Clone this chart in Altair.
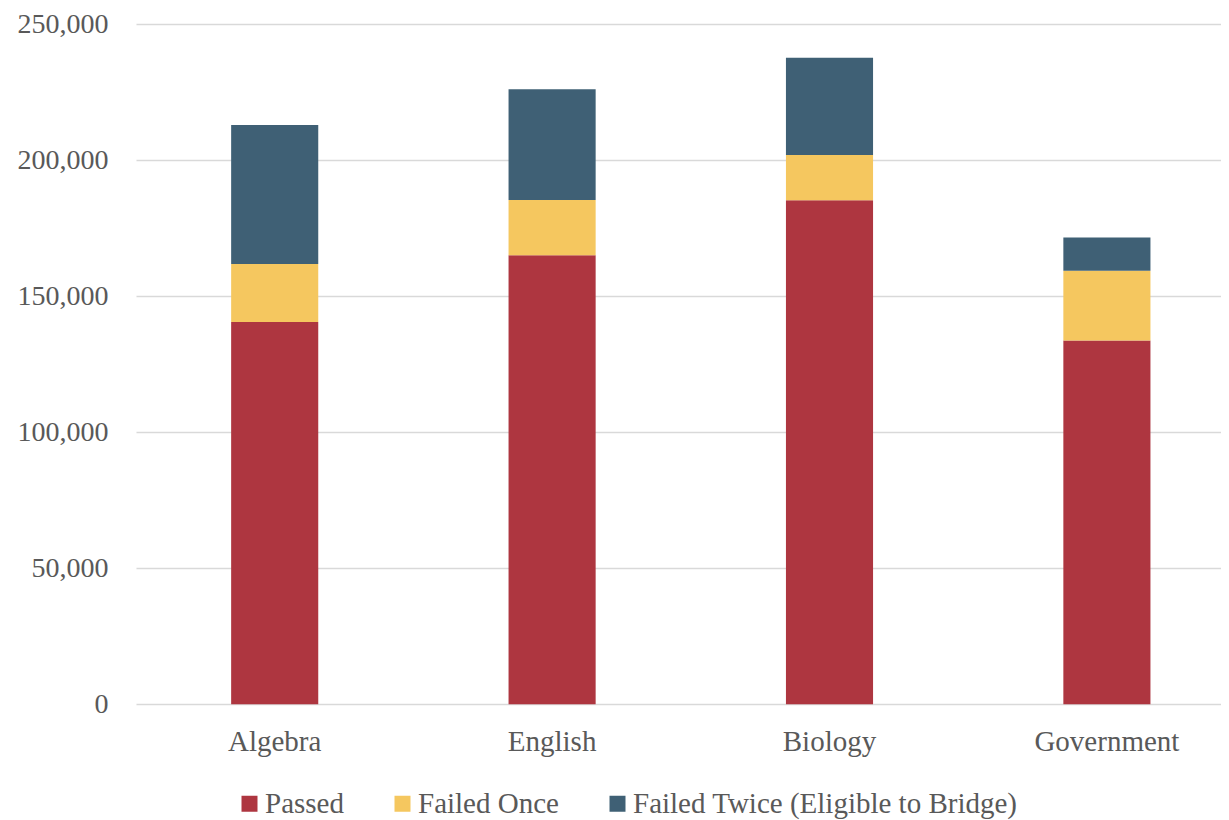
import altair as alt
import pandas as pd

subjects = ["Algebra", "English", "Biology", "Government"]
series = ["Passed", "Failed Once", "Failed Twice (Eligible to Bridge)"]
passed = [140500, 165000, 185200, 133700]
failed_once = [21300, 20300, 16700, 25600]
failed_twice = [51100, 40700, 35700, 12200]
colors = ["#AE3640", "#F5C75F", "#3F6075"]

rows = []
for i, s in enumerate(subjects):
    for k, (name, vals) in enumerate(zip(series, [passed, failed_once, failed_twice])):
        rows.append({"Subject": s, "Series": name, "Value": vals[i], "Order": k})
df = pd.DataFrame(rows)

FONT = "Liberation Serif"
GREY = "#595959"

chart = alt.Chart(df).mark_bar().encode(
    x=alt.X("Subject:N", sort=subjects, title=None,
            scale=alt.Scale(paddingInner=0.686, paddingOuter=0.343, range=[0, 1109.6]),
            axis=alt.Axis(labelAngle=0, labelFont=FONT, labelFontSize=29, labelColor=GREY,
                          labelPadding=23, ticks=False, domain=False, grid=False)),
    y=alt.Y("Value:Q", title=None, stack="zero",
            scale=alt.Scale(domain=[0, 250000], nice=False),
            axis=alt.Axis(values=[0, 50000, 100000, 150000, 200000, 250000], format=",.0f",
                          labelFont=FONT, labelFontSize=28, labelColor=GREY, labelPadding=28,
                          ticks=False, domain=False, grid=True, gridColor="#D9D9D9",
                          gridWidth=1.5)),
    color=alt.Color("Series:N", sort=series,
                    scale=alt.Scale(domain=series, range=colors),
                    legend=alt.Legend(title=None, orient="none", direction="horizontal",
                                      legendX=99, legendY=765, symbolType="square",
                                      symbolSize=256, symbolStrokeWidth=0, labelFont=FONT,
                                      labelFontSize=29, labelColor=GREY, labelOffset=1,
                                      columnPadding=44, padding=0, labelLimit=600)),
    order=alt.Order("Order:Q", sort="ascending"),
).properties(
    width=1085, height=680.3,
    autosize=alt.AutoSizeParams(type="none"),
    padding={"left": 128, "top": 16, "right": 0, "bottom": 115.7},
).configure(font=FONT).configure_view(stroke=None)

chart.save("out.html", embed_options={"renderer": "svg", "actions": False})
